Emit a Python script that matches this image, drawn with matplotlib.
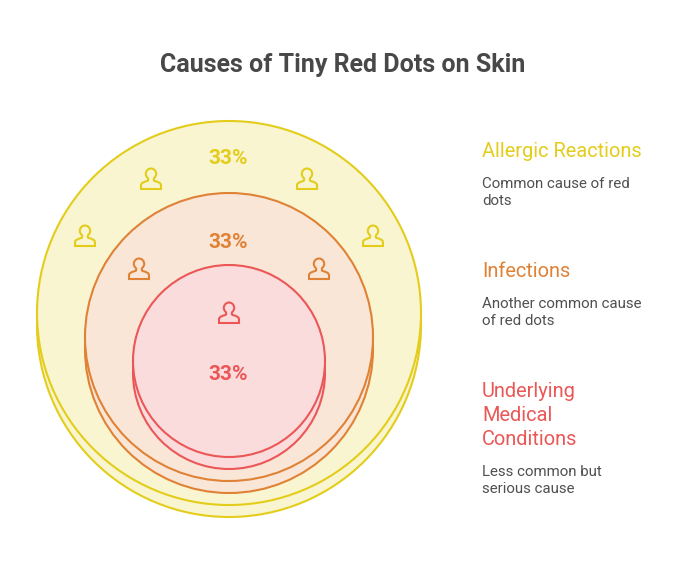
import matplotlib
matplotlib.use('Agg')
import matplotlib.pyplot as plt
from matplotlib.patches import Circle, PathPatch
from matplotlib.path import Path
from matplotlib.transforms import Affine2D

plt.rcParams['font.family'] = ['Roboto', 'DejaVu Sans']

title = 'Causes of Tiny Red Dots on Skin'
percents = ['33%', '33%', '33%']
names = ['Allergic\u00a0Reactions', 'Infections', 'Underlying\nMedical\nConditions']
notes = ['Common cause of red\ndots', 'Another common cause\nof red dots', 'Less common but\nserious cause']

line_colors = ['#E3CD1A', '#E08236', '#EB5757']
fill_colors = ['#F9F5D1', '#F9E6D7', '#FBDCDD']
text_color = '#484848'
note_color = '#505050'

# ring geometry in pixels
center_x = 229
center_y = [313, 337, 361]
radius = [192, 144, 96]
shadow_drop = 12

percent_y = [158, 242, 374]
name_y = [152, 272, 392]
note_y = [185, 305, 473]

icons_x = [[151, 307, 85, 373], [139, 319], [229]]
icons_y = [[179, 179, 236, 236], [269, 269], [313]]


def person_path():
    verts = [(-10, 10), (-10, 6.5),
             (-10, 3.5), (-6.5, 2.8), (-3.6, 2),
             (-2.6, 1.6), (-2.6, 0), (-3.2, -1),
             (-4.5, -2.2), (-5.2, -3.6), (-5.2, -5),
             (-5.2, -8.2), (-2.8, -10.5), (0, -10.5),
             (2.8, -10.5), (5.2, -8.2), (5.2, -5),
             (5.2, -3.6), (4.5, -2.2), (3.2, -1),
             (2.6, 0), (2.6, 1.6), (3.6, 2),
             (6.5, 2.8), (10, 3.5), (10, 6.5),
             (10, 10), (-10, 10)]
    codes = [Path.MOVETO, Path.LINETO] + [Path.CURVE4] * 24 + [Path.LINETO, Path.CLOSEPOLY]
    return Path(verts, codes)


fig = plt.figure(figsize=(6.84, 5.82), dpi=100)
ax = fig.add_axes([0, 0, 1, 1])
ax.set_xlim(0, 684)
ax.set_ylim(582, 0)
ax.axis('off')

for i in range(3):
    # lower circle gives the stacked look, the main one sits on top
    for dy in [shadow_drop, 0]:
        ax.add_patch(Circle((center_x, center_y[i] + dy), radius[i], facecolor=fill_colors[i],
                            edgecolor=line_colors[i], linewidth=1.5))

person = person_path()
for i in range(3):
    for x, y in zip(icons_x[i], icons_y[i]):
        tr = Affine2D().translate(x, y) + ax.transData
        ax.add_patch(PathPatch(person, facecolor='none', edgecolor=line_colors[i],
                               linewidth=1.5, transform=tr))
    ax.text(center_x - 0.5, percent_y[i], percents[i], color=line_colors[i], fontsize=15,
            fontweight='bold', ha='center', va='center')

ax.text(342.5, 65, title, color=text_color, fontsize=18, fontweight='bold', ha='center', va='center')

for i in range(3):
    ax.text(482, name_y[i] - 10, names[i], color=line_colors[i], fontsize=14.4, ha='left', va='top',
            linespacing=1.32)
    ax.text(482, note_y[i] - 8, notes[i], color=note_color, fontsize=10.8, ha='left', va='top',
            linespacing=1.31)

fig.savefig('out.png', dpi=100)
